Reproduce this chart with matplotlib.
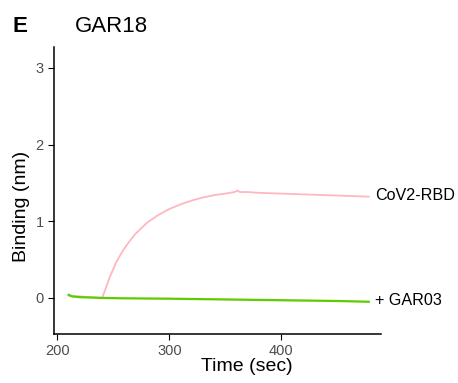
import matplotlib.pyplot as plt

plt.rcParams['font.family'] = ['Liberation Sans', 'DejaVu Sans']

# pink trace: CoV2-RBD association / dissociation
rbd_t = [210, 220, 230, 240, 242, 245, 247, 250, 252, 255, 257, 260, 265, 270,
         275, 280, 285, 290, 300, 310, 320, 330, 340, 350, 358, 361, 363, 370,
         380, 400, 420, 440, 460, 478]
rbd_y = [0.03, 0.02, 0.01, 0.0, 0.08, 0.2, 0.28, 0.38, 0.45, 0.53, 0.58, 0.65,
         0.75, 0.84, 0.91, 0.98, 1.03, 1.08, 1.16, 1.22, 1.27, 1.31, 1.34,
         1.36, 1.38, 1.40, 1.38, 1.38, 1.37, 1.36, 1.35, 1.34, 1.33, 1.32]

# green trace: + GAR03
gar_t = [210, 213, 220, 240, 260, 300, 350, 400, 450, 478]
gar_y = [0.04, 0.02, 0.01, 0.0, -0.005, -0.01, -0.02, -0.03, -0.04, -0.05]

labels = ['CoV2-RBD', '+ GAR03']

fig = plt.figure(figsize=(4.58, 3.83), dpi=100)
ax = fig.add_axes([0.118, 0.128, 0.714, 0.749])

ax.plot(rbd_t, rbd_y, color='#FFB6C1', lw=1.3)
ax.plot(gar_t, gar_y, color='#5CCB00', lw=1.6)

ax.text(484, rbd_y[-1] + 0.01, labels[0], fontsize=11.6, va='center', ha='left')
ax.text(484, gar_y[-1] + 0.02, labels[1], fontsize=11.6, va='center', ha='left')

ax.set_xlim(197, 489)
ax.set_ylim(-0.47, 3.27)
ax.set_xticks([200, 300, 400])
ax.set_yticks([0, 1, 2, 3])
ax.tick_params(labelsize=10.5, labelcolor='#4D4D4D', length=4, width=0.8)
for s in ['top', 'right']:
    ax.spines[s].set_visible(False)
for s in ['left', 'bottom']:
    ax.spines[s].set_linewidth(1.1)

ax.set_xlabel('Time (sec)', fontsize=14)
ax.set_ylabel('Binding (nm)', fontsize=14)
ax.xaxis.set_label_coords(0.59, -0.085, transform=ax.transAxes)
ax.yaxis.set_label_coords(-0.074, 0.446, transform=ax.transAxes)

fig.text(0.028, 0.932, 'E', fontsize=16, fontweight='bold', va='center')
fig.text(0.163, 0.932, 'GAR18', fontsize=16, va='center')

fig.savefig('out.png', dpi=100)
